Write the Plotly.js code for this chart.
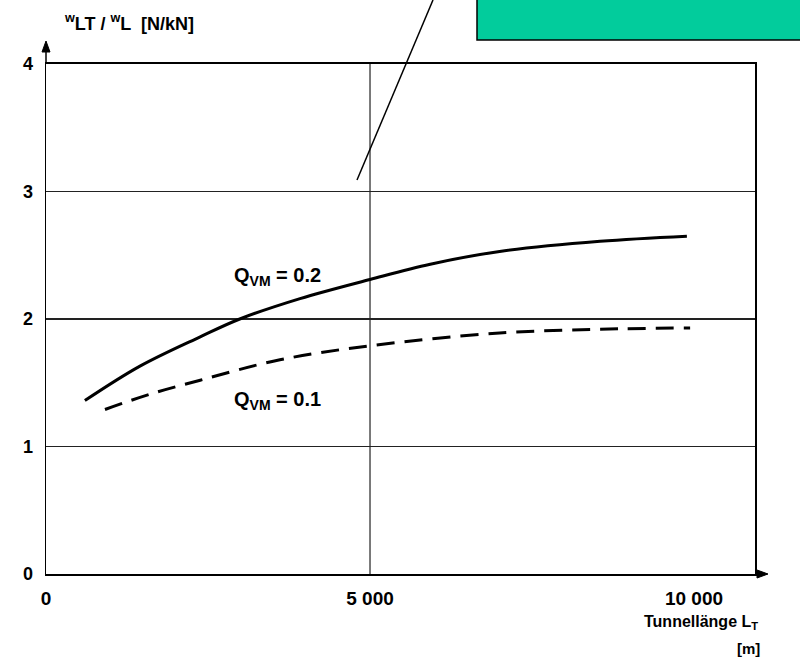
<!DOCTYPE html>
<html>
<head>
<meta charset="utf-8">
<script src="https://cdn.plot.ly/plotly-3.0.1.min.js"></script>
<style>html,body{margin:0;padding:0;background:#fff;}#chart{width:800px;height:660px;}</style>
</head>
<body>
<div id="chart"></div>
<script>
// Tunnel length L_T [m]
const lengthQ02 = [600, 1450, 2380, 2990, 3920, 5000, 5930, 7000, 8550, 9890];
const ratioQ02  = [1.36, 1.63, 1.86, 2.00, 2.16, 2.31, 2.43, 2.53, 2.61, 2.65];
const lengthQ01 = [910, 1600, 2380, 3610, 5000, 7000, 8550, 9940];
const ratioQ01  = [1.29, 1.41, 1.52, 1.68, 1.79, 1.89, 1.92, 1.93];
const xTickVals = [0, 5000, 10000];
const xTickText = ["0", "5 000", "10 000"];
const yTickVals = [0, 1, 2, 3, 4];
const yTickText = ["0", "1", "2", "3", "4"];
const xGridVals = [5000];

const FONT = "Liberation Sans, Arial, sans-serif";

// plot area geometry (pixels) used to place decorations in paper units
const M = {l: 46, r: 45, t: 64, b: 86};
const PW = 800 - M.l - M.r, PH = 660 - M.t - M.b;
const px = v => (v - M.l) / PW;
const py = v => (660 - M.b - v) / PH;

const traces = [
  {x: lengthQ02, y: ratioQ02, mode: "lines", line: {color: "#000", width: 3, shape: "spline"}, name: "Q_VM = 0.2", showlegend: false},
  {x: lengthQ01, y: ratioQ01, mode: "lines", line: {color: "#000", width: 3, shape: "spline", dash: "18px,10px"}, name: "Q_VM = 0.1", showlegend: false}
];

const shapes = xGridVals.map(v => ({type: "line", xref: "x", yref: "paper", x0: v, x1: v, y0: 0, y1: 1, line: {color: "#222", width: 1.2}, layer: "below"}));
// green box and pointer line
shapes.push({type: "rect", xref: "paper", yref: "paper", x0: px(477), x1: px(830), y0: py(40), y1: py(-20), fillcolor: "#02CC9C", line: {color: "#000", width: 1.5}});
shapes.push({type: "line", xref: "paper", yref: "paper", x0: px(357), y0: py(180), x1: px(433), y1: py(0), line: {color: "#000", width: 1.5}});
// axis arrows
shapes.push({type: "line", xref: "paper", yref: "paper", x0: px(46), y0: py(64), x1: px(46), y1: py(48), line: {color: "#000", width: 1.5}});
shapes.push({type: "path", xref: "paper", yref: "paper",
  path: `M${px(42)},${py(52)} L${px(50)},${py(52)} L${px(46)},${py(41)} Z`, fillcolor: "#000", line: {color: "#000", width: 1}});
shapes.push({type: "line", xref: "paper", yref: "paper", x0: px(755), y0: py(574), x1: px(760), y1: py(574), line: {color: "#000", width: 2}});
shapes.push({type: "path", xref: "paper", yref: "paper",
  path: `M${px(757)},${py(570)} L${px(757)},${py(578)} L${px(768)},${py(574)} Z`, fillcolor: "#000", line: {color: "#000", width: 1}});

const annotations = [
  {xref: "paper", yref: "paper", x: px(62), y: py(22), xanchor: "left", yanchor: "middle", showarrow: false,
   text: "<sup>w</sup>LT / <sup>w</sup>L  [N/kN]", font: {family: FONT, size: 18, weight: "bold", color: "#000"}},
  {xref: "x", yref: "y", x: 3580, y: 2.33, xanchor: "center", yanchor: "middle", showarrow: false,
   text: "Q<sub>VM</sub> = 0.2", font: {family: FONT, size: 20, weight: "bold", color: "#000"}},
  {xref: "x", yref: "y", x: 3580, y: 1.36, xanchor: "center", yanchor: "middle", showarrow: false,
   text: "Q<sub>VM</sub> = 0.1", font: {family: FONT, size: 20, weight: "bold", color: "#000"}},
  {xref: "paper", yref: "paper", x: px(760), y: py(622), xanchor: "right", yanchor: "middle", showarrow: false,
   text: "Tunnellänge L<sub>T</sub>", font: {family: FONT, size: 16, weight: "bold", color: "#000"}},
  {xref: "paper", yref: "paper", x: px(762), y: py(648), xanchor: "right", yanchor: "middle", showarrow: false,
   text: "[m]", font: {family: FONT, size: 15, weight: "bold", color: "#000"}}
];

const layout = {
  width: 800, height: 660,
  margin: M,
  paper_bgcolor: "#fff", plot_bgcolor: "#fff",
  showlegend: false,
  xaxis: {
    range: [0, 10941], tickvals: xTickVals, ticktext: xTickText, ticks: "",
    showgrid: false, zeroline: false, showline: true, linecolor: "#000", linewidth: 2, mirror: true,
    tickfont: {family: FONT, size: 19, weight: "bold", color: "#000"}, ticklabelstandoff: 6
  },
  yaxis: {
    range: [0, 4], tickvals: yTickVals, ticktext: yTickText, ticks: "",
    showgrid: true, gridcolor: "#222", gridwidth: 1.2, zeroline: false,
    showline: true, linecolor: "#000", linewidth: 1.5, mirror: true,
    tickfont: {family: FONT, size: 18, weight: "bold", color: "#000"}, ticklabelstandoff: 8
  },
  shapes: shapes,
  annotations: annotations
};

Plotly.newPlot("chart", traces, layout, {displayModeBar: false, staticPlot: true});
</script>
</body>
</html>
